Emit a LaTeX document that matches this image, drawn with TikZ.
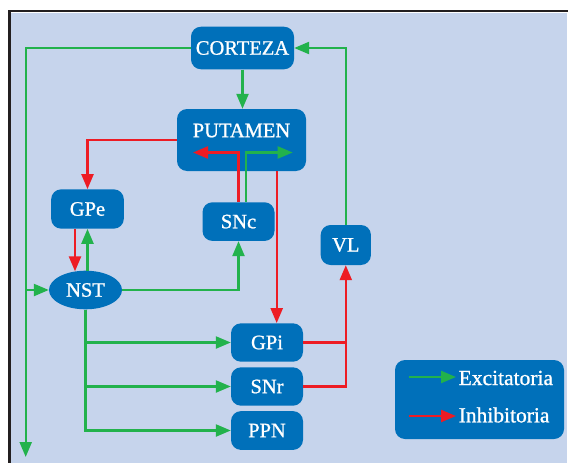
\documentclass[tikz,border=0pt]{standalone}
\usepackage{fontspec}
\newfontfamily\nucleusfont{Liberation Serif}[FakeBold=1]
\usetikzlibrary{arrows.meta,shapes.geometric}
\definecolor{panel}{HTML}{C6D4EC}
\definecolor{cellblue}{HTML}{0070BA}
\definecolor{excit}{HTML}{22B24C}
\definecolor{inhib}{HTML}{ED1C24}
\definecolor{frameline}{HTML}{231F20}
\begin{document}
\begin{tikzpicture}[x=1pt,y=-1pt,
  nucleus/.style={fill=cellblue, rounded corners=10pt, text=white, inner sep=0pt,
    font=\nucleusfont\fontsize{20.5}{24}\selectfont},
  oval/.style={ellipse, fill=cellblue, text=white, inner sep=0pt,
    font=\nucleusfont\fontsize{20.5}{24}\selectfont},
  keytext/.style={text=white, inner sep=0pt, anchor=west,
    font=\nucleusfont\fontsize{21.5}{25}\selectfont},
  excline/.style={draw=excit, line width=2.3pt},
  inhline/.style={draw=inhib, line width=2.3pt},
  exc/.style={excline, -{Triangle[length=15pt,width=12pt]}},
  inh/.style={inhline, -{Triangle[length=15pt,width=12pt]}}]
\useasboundingbox (0,0) rectangle (568,463);
\fill[white] (0,0) rectangle (568,463);
\fill[panel] (11,13) rectangle (567,463);
\draw[frameline, line width=2.6pt] (9.3,463) -- (9.3,11) -- (568,11);

% nuclei
\node[nucleus, minimum width=103pt, minimum height=42.6pt] (corteza) at (242.5,48) {CORTEZA};
\node[nucleus, minimum width=129pt, minimum height=62pt,
  label={[text=white, inner sep=0pt, font=\nucleusfont\fontsize{20.5}{24}\selectfont, yshift=9.5pt]center:PUTAMEN}]
  (putamen) at (241.5,140) {};
\node[nucleus, minimum width=72.7pt, minimum height=39.3pt] (gpe) at (87.5,209) {GPe};
\node[nucleus, minimum width=72pt, minimum height=38.7pt] (snc) at (238.5,221.6) {SNc};
\node[nucleus, minimum width=50.3pt, minimum height=40pt] (vl) at (345.8,245) {VL};
\node[oval, minimum width=73pt, minimum height=38.6pt] (nst) at (85.5,290) {NST};
\node[nucleus, minimum width=72pt, minimum height=38.4pt] (gpi) at (267,342.5) {GPi};
\node[nucleus, minimum width=72pt, minimum height=38.4pt] (snr) at (267,386.5) {SNr};
\node[nucleus, minimum width=72pt, minimum height=38.8pt] (ppn) at (267,430.5) {PPN};

% key
\node[nucleus, minimum width=169pt, minimum height=79pt] (key) at (479.5,399.5) {};
\node[keytext] (exlabel) at (458.5,378) {Excitatoria};
\node[keytext] (inlabel) at (458.5,415) {Inhibitoria};
\coordinate (exstart) at (409,377);
\coordinate (instart) at (409,416);
\draw[exc] (exstart) -- (exstart -| 456,0);
\draw[inh] (instart) -- (instart -| 456,0);

% cortex loop
\coordinate (downend) at (25.7,457);
\draw[exc] (corteza.south) -- (corteza.south |- putamen.north);
\draw[exc] (vl.north) |- (corteza.east);
\draw[exc] (corteza.west) -| (downend);
\draw[exc] (nst.west -| downend) -- (nst.west);

% striatal and pallidal paths
\draw[inh] (putamen.west) -| (gpe.north);
\draw[inh] ([xshift=-12.5pt]gpe.south) -- ([xshift=-10.5pt,yshift=-0.8pt]nst.north);
\draw[exc] (nst.north -| gpe.south) -- (gpe.south);
\draw[exc] (nst.east) -| (snc.south);

% nigrostriatal pair
\coordinate (redtip) at (193,152.5);
\coordinate (greentip) at (292.7,152.5);
\draw[inh] (snc.north) |- (redtip);
\draw[exc] ([xshift=7.5pt]snc.north) |- (greentip);

% output nuclei
\coordinate (gpitop) at ([xshift=9.7pt]gpi.north);
\draw[inh] (putamen.south -| gpitop) -- (gpitop);
\coordinate (join) at (vl.south |- gpi.east);
\draw[inhline] (gpi.east) -- (join);
\draw[inh] (snr.east) -| (vl.south);

\draw[exc] (nst.south) |- (gpi.west);
\draw[exc] (nst.south) |- (snr.west);
\draw[exc] (nst.south) |- (ppn.west);
\end{tikzpicture}
\end{document}
